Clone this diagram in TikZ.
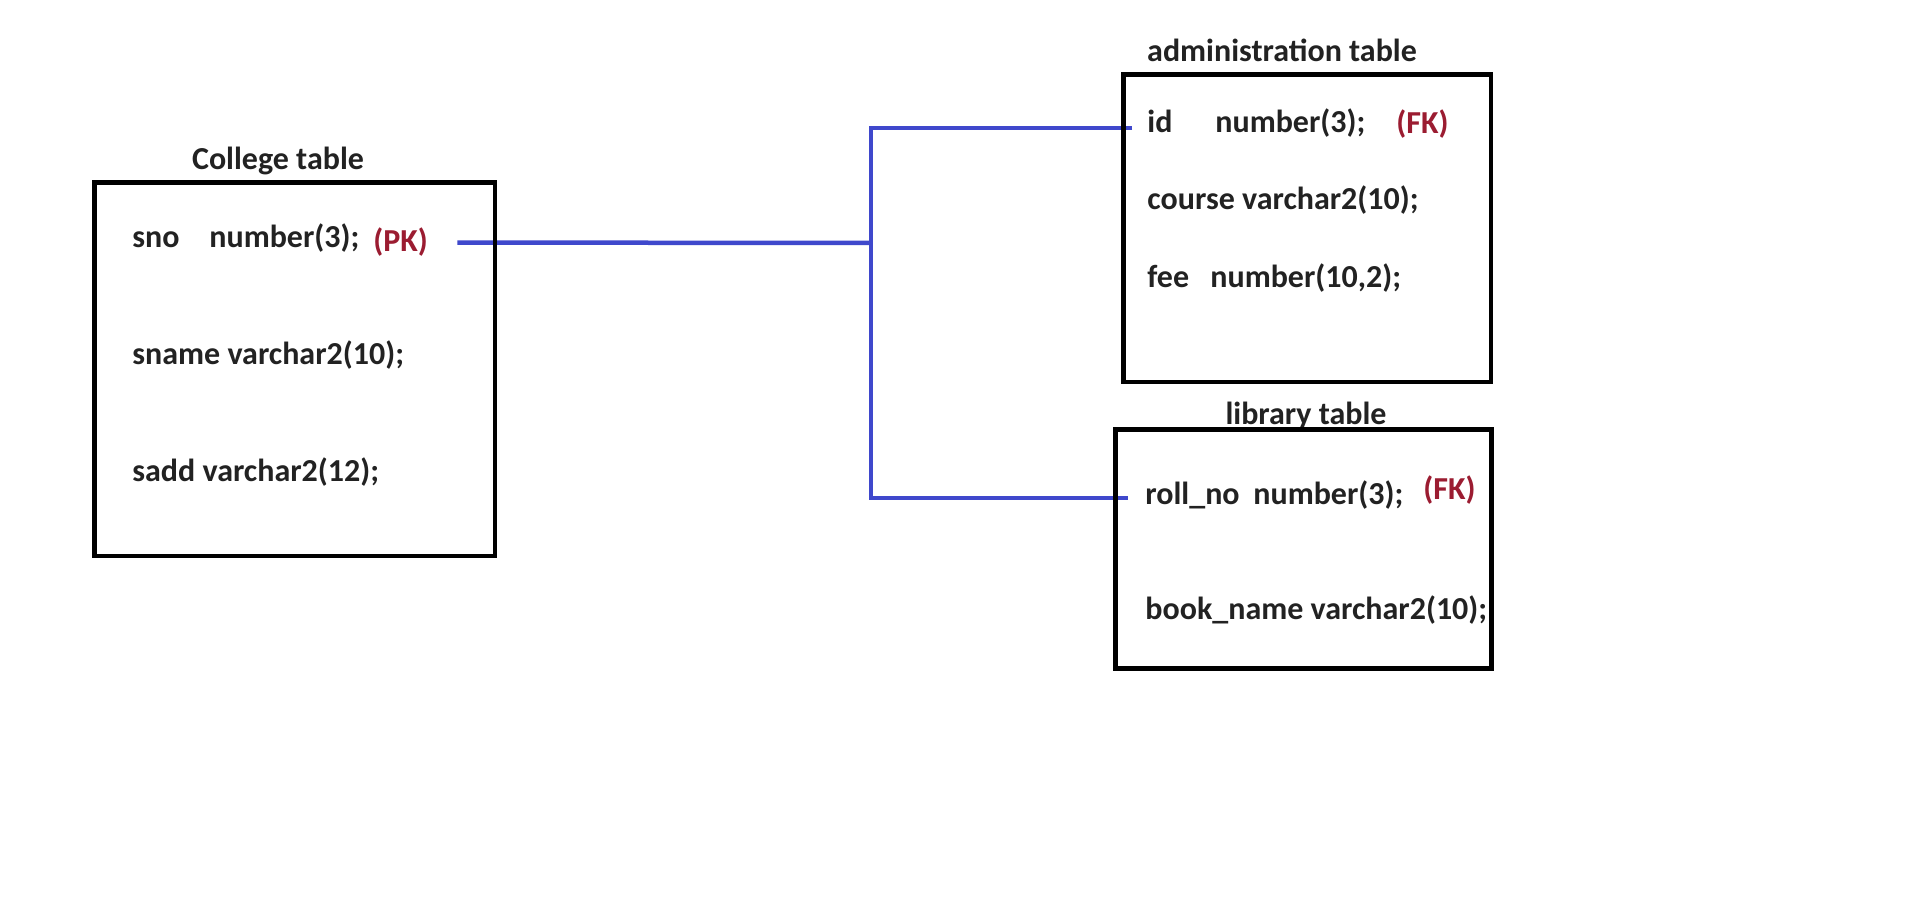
\documentclass[tikz,border=0pt]{standalone}
\usepackage{fontspec}
\setmainfont{Carlito}
\usetikzlibrary{calc}
\definecolor{linkblue}{RGB}{63,72,204}
\definecolor{keyred}{RGB}{155,28,49}
\definecolor{inkgray}{RGB}{34,34,34}
\begin{document}
\begin{tikzpicture}[x=0.5pt,y=-0.5pt,
  every node/.style={font=\fontsize{16}{19}\selectfont\bfseries},
  field/.style={anchor=base west, inner sep=0pt, text=inkgray},
  keyfield/.style={field, text=keyred},
  title/.style={anchor=base, inner sep=0pt, text=inkgray},
  tbl/.style={draw=black, line width=2.25pt},
  link/.style={draw=linkblue, line width=2.25pt}]
\useasboundingbox[fill=white] (0,0) rectangle (1913,897);
% College table
\node[title] (collegetitle) at (278,170) {College table};
\node[field] (sno) at (132,248) {sno};
\node[field] (snotype) at (209,248) {number(3);};
\node[keyfield] (pk) at (373,252) {(PK)};
\node[field] (sname) at (132,365) {sname varchar2(10);};
\node[field] (sadd) at (132,482) {sadd varchar2(12);};
% administration table
\node[title] (admintitle) at (1282,62) {administration table};
\node[field] (id) at (1147,133) {id};
\node[field] (idtype) at (1215,133) {number(3);};
\node[keyfield] (fkadmin) at (1396,134) {(FK)};
\node[field] (course) at (1147,210) {course varchar2(10);};
\node[field] (fee) at (1147,288) {fee};
\node[field] (feetype) at (1210,288) {number(10,2);};
% library table
\node[title] (librarytitle) at (1306,425) {library table};
\node[field] (rollno) at (1145,505) {roll\_no};
\node[field] (rollnotype) at (1253,505) {number(3);};
\node[keyfield] (fklibrary) at (1423,500) {(FK)};
\node[field] (bookname) at (1145,620) {book\_name varchar2(10);};
% links
\coordinate (hub) at (871,243);
\coordinate (adminend) at (1132,128);
\coordinate (libraryend) at (1128,498);
\draw[link] ($(pk.east)+(29,0)$) -- (hub);
\draw[link] (adminend) -| (hub) |- (libraryend);
% boxes
\draw[tbl] (94.5,182.5) rectangle (495,556);
\draw[tbl] (1123.5,74.5) rectangle (1491,382);
\draw[tbl] (1115.5,429.5) rectangle (1491.5,668.5);
\end{tikzpicture}
\end{document}
